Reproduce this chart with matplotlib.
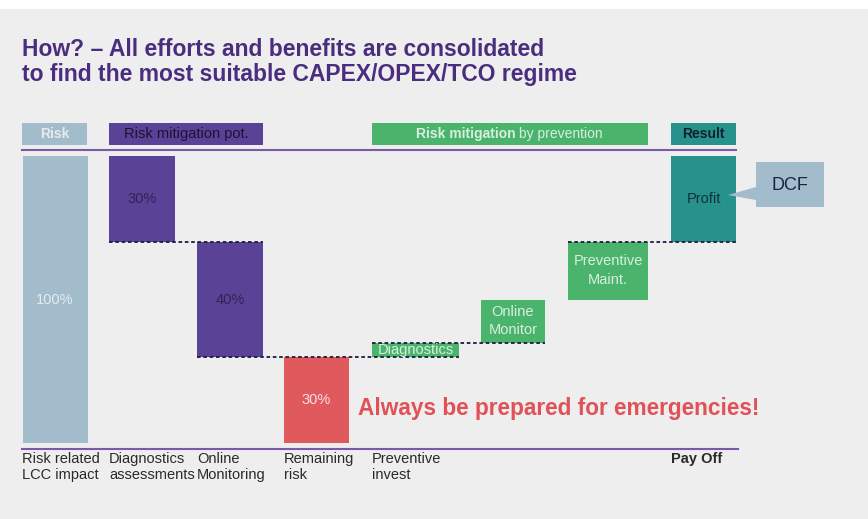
import matplotlib.pyplot as plt
from matplotlib.patches import Rectangle, Polygon

plt.rcParams['font.family'] = ['Liberation Sans', 'DejaVu Sans']

# waterfall data (percent of risk related LCC impact)
steps = ["Risk", "Diagnostics assessments", "Online Monitoring", "Remaining risk",
         "Diagnostics", "Online Monitor", "Preventive Maint.", "Profit"]
values = [100, -30, -40, 30, 5, 15, 20, 30]
is_total = [True, False, False, True, False, False, False, False]
bar_texts = ["100%", "30%", "40%", "30%", "Diagnostics", "Online\nMonitor",
             "Preventive\nMaint.", "Profit"]
bottom_labels = ["Risk related\nLCC impact", "Diagnostics\nassessments", "Online\nMonitoring",
                 "Remaining\nrisk", "Preventive\ninvest", "", "", "Pay Off"]
headers = ["Risk", "Risk mitigation pot.", "Risk mitigation by prevention", "Result"]

# layout (pixels of the 868x519 canvas)
W, H = 868, 519
centers = [55, 142, 230, 316.5, 415.5, 513, 608, 703.5]
widths = [65, 66, 66, 65, 87, 64, 80, 65]
colors = ["#a2bccb", "#5a4397", "#5a4397", "#e05a5d", "#4bb46c", "#4bb46c", "#4bb46c", "#27918b"]
text_colors = ["#e4ecf0", "#2e2458", "#2e2458", "#f7e2e2", "#d8efdf", "#d8efdf", "#d8efdf", "#10303a"]
zero_px, full_px = 443, 156
ppu = (zero_px - full_px) / 100.0


def py(p):
    return (zero_px - p) / ppu


fig = plt.figure(figsize=(W / 100, H / 100), dpi=100, facecolor="white")
fig.patches.append(Rectangle((0, 0), 1, 1 - 9 / H, transform=fig.transFigure,
                             facecolor="#eeeeee", edgecolor="none", zorder=-10))
ax = fig.add_axes([0, 0, 1, 1])
ax.set_xlim(0, W)
ax.set_ylim(py(H), py(0))
ax.axis("off")
ax.patch.set_alpha(0)

# title
fig.text(22 / W, 1 - 49 / H, "How? \u2013 All efforts and benefits are consolidated",
         color="#4b2d7f", fontsize=16.5, fontweight="bold", va="center")
fig.text(22 / W, 1 - 74 / H, "to find the most suitable CAPEX/OPEX/TCO regime",
         color="#4b2d7f", fontsize=16.5, fontweight="bold", va="center")

# header boxes
hdr_spans = [(22, 87), (109, 263), (372, 648), (671, 736)]
hdr_colors = ["#a2bccb", "#5a4397", "#4bb46c", "#27918b"]
for (x0, x1), c in zip(hdr_spans, hdr_colors):
    ax.add_patch(Rectangle((x0, py(145)), x1 - x0, py(123) - py(145), facecolor=c, edgecolor="none"))
ax.text(54.5, py(134), headers[0], color="#e4ecf0", fontsize=10, fontweight="bold", ha="center", va="center")
ax.text(186, py(134), headers[1], color="#1a1330", fontsize=10.5, ha="center", va="center")
ax.text(516, py(134), "Risk mitigation", color="#d8efdf", fontsize=10, fontweight="bold", ha="right", va="center")
ax.text(519, py(134), "by prevention", color="#d8efdf", fontsize=10, ha="left", va="center")
ax.text(703.5, py(134), headers[3], color="#10202a", fontsize=10, fontweight="bold", ha="center", va="center")

ax.plot([22, 736], [py(150), py(150)], color="#7a5aa8", lw=1.5)
ax.plot([22, 738], [py(449), py(449)], color="#7a5aa8", lw=1.5)

# waterfall bars
level = 0
lows, highs = [], []
for v, tot in zip(values, is_total):
    if tot:
        lo, hi = 0, v
        level = v
    else:
        start = level
        level = level + v
        lo, hi = min(start, level), max(start, level)
    lows.append(lo)
    highs.append(hi)

ax.bar(centers, [h - l for h, l in zip(highs, lows)], bottom=lows, width=widths,
       color=colors, edgecolor="none")
for i in range(len(steps)):
    ax.text(centers[i], (lows[i] + highs[i]) / 2, bar_texts[i], color=text_colors[i],
            fontsize=10.5, ha="center", va="center", linespacing=1.45)

# dashed connectors
ends = [lows[i] if values[i] < 0 else highs[i] for i in range(len(steps))]
for a, b in [(1, 2), (2, 4), (4, 5), (6, 7)]:
    x0 = centers[a] - widths[a] / 2
    x1 = centers[b] + widths[b] / 2
    ax.plot([x0, x1], [ends[a], ends[a]], color="#1c1c3c", lw=1.3, ls=(0, (2, 1.5)))

# bottom category labels
for i, lab in enumerate(bottom_labels):
    if not lab:
        continue
    ax.text(centers[i] - widths[i] / 2, py(452), lab, color="#2a2a2a",
            fontsize=10.5, ha="left", va="top", linespacing=1.2,
            fontweight="bold" if lab == "Pay Off" else "normal")

ax.text(358, py(408), "Always be prepared for emergencies!", color="#e05257",
        fontsize=16.3, fontweight="bold", ha="left", va="center")

# DCF callout
pts = [(756, 162), (824, 162), (824, 207), (756, 207), (756, 200), (728, 195), (756, 187)]
ax.add_patch(Polygon([(x, py(y)) for x, y in pts], closed=True, facecolor="#a2bccb", edgecolor="none"))
ax.text(790, py(185), "DCF", color="#1c2340", fontsize=13, ha="center", va="center")

fig.savefig("out.png", dpi=100, facecolor="white")
